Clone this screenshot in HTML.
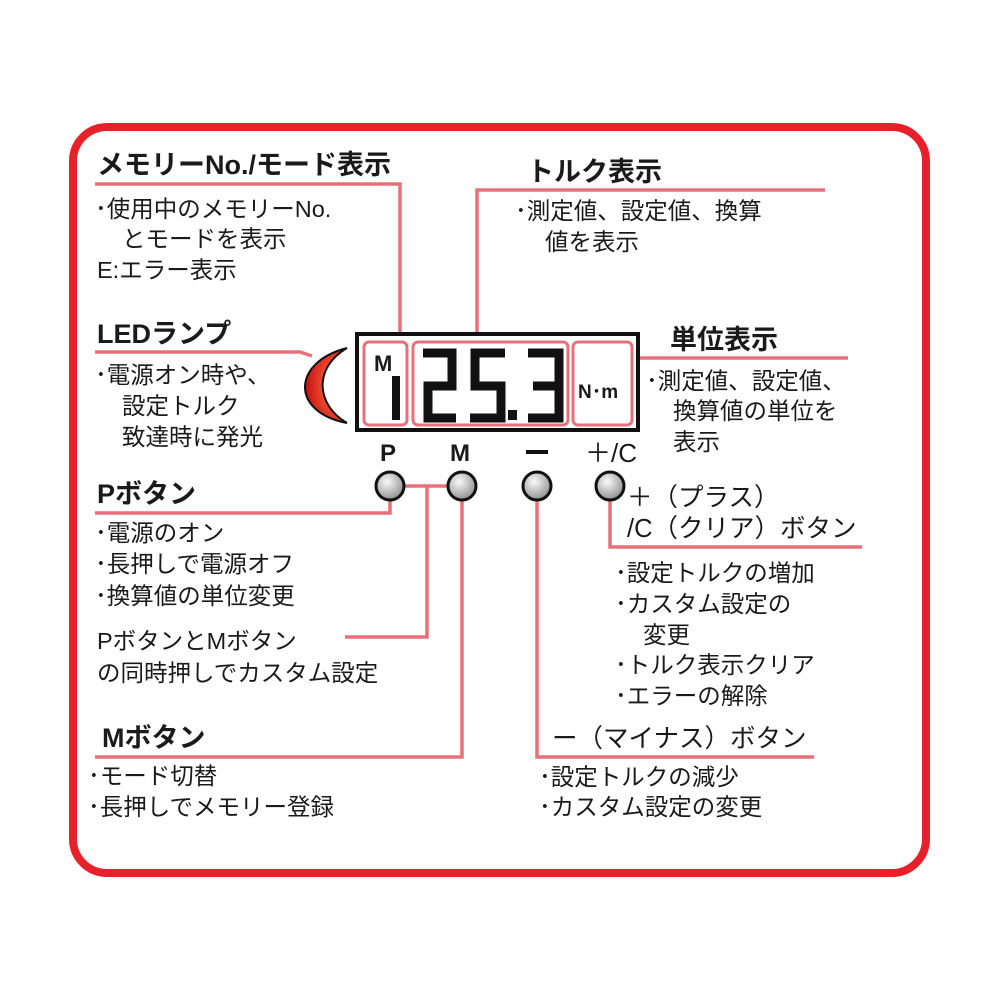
<!DOCTYPE html>
<html><head><meta charset="utf-8"><style>
html,body{margin:0;padding:0;background:#fff}
svg text{font-family:"Liberation Sans","Noto Sans CJK JP",sans-serif;fill:#1a1a1a}
.t{font-size:27px;font-weight:bold}
.b{font-size:23.5px}
</style></head><body>
<svg width="1000" height="1000" viewBox="0 0 1000 1000" xmlns="http://www.w3.org/2000/svg">
<defs>
<radialGradient id="g" cx="0.4" cy="0.35" r="0.7"><stop offset="0" stop-color="#fafafa"/><stop offset="1" stop-color="#8a8a8a"/></radialGradient>
<radialGradient id="r" cx="0.7" cy="0.5" r="0.7"><stop offset="0" stop-color="#f7a060"/><stop offset="0.5" stop-color="#e8402a"/><stop offset="1" stop-color="#c01010"/></radialGradient>
</defs>
<rect x="73" y="127" width="853" height="746" rx="34" fill="none" stroke="#e8202a" stroke-width="8"/>
<g fill="none" stroke="#e77179" stroke-width="3.5">
<polyline points="95,184 400,184 400,343"/>
<polyline points="477,343 477,190 825,190"/>
<polyline points="95,352 300,352 312,356"/>
<polyline points="632,358 848,358"/>
<polyline points="95,513 390,513 390,500"/>
<polyline points="404,486 448,486"/>
<polyline points="427,486 427,637 345,637"/>
<polyline points="462,500 462,757 95,757"/>
<polyline points="537,500 537,757 814,757"/>
<polyline points="610,500 610,547 862,547"/>
</g>
<path d="M347,348 C292,362 290,412 347,423 C316,405 313,368 347,348 Z" fill="url(#r)" stroke="#111" stroke-width="2"/>
<rect x="357" y="334" width="281" height="96" fill="#fff" stroke="#111" stroke-width="4"/>
<g fill="none" stroke="#e77179" stroke-width="3">
<rect x="364" y="342" width="43" height="83" rx="5"/>
<rect x="413" y="342" width="155" height="83" rx="5"/>
<rect x="573" y="342" width="59" height="83" rx="5"/>
</g>
<text x="374" y="371" style="font-size:22px;font-weight:bold">M</text>
<rect x="392" y="376" width="8" height="44" fill="#111"/>
<g fill="none" stroke="#111" stroke-width="9" stroke-linejoin="miter">
<polyline points="423,353 452,353 452,386 428,386 428,418 456,418"/>
<polyline points="505,353 475,353 475,386 501,386 501,418 470,418"/>
<polyline points="528,353 559,353 559,418 528,418"/>
<line x1="533" y1="386" x2="559" y2="386"/>
</g>
<rect x="508" y="410" width="9" height="10" fill="#111"/>
<text x="578" y="398" style="font-size:19px;font-weight:bold">N･m</text>
<text x="380" y="461" style="font-size:24px;font-weight:bold">P</text>
<text x="450" y="461" style="font-size:24px;font-weight:bold">M</text>
<rect x="526" y="450" width="22" height="4" fill="#111"/>
<text x="585" y="462" style="font-size:26px">＋/C</text>
<g stroke="#111" stroke-width="3" fill="url(#g)">
<circle cx="390" cy="486" r="14"/><circle cx="462" cy="486" r="14"/>
<circle cx="537" cy="486" r="14"/><circle cx="610" cy="486" r="14"/>
</g>
<text class="t" x="97" y="174">メモリーNo./モード表示</text>
<text class="b" x="95" y="217">･使用中のメモリーNo.</text>
<text class="b" x="122" y="247">とモードを表示</text>
<text class="b" x="97" y="278">E:エラー表示</text>
<text class="t" x="527" y="181">トルク表示</text>
<text class="b" x="515" y="219">･測定値、設定値、換算</text>
<text class="b" x="545" y="250">値を表示</text>
<text class="t" x="97" y="343">LEDランプ</text>
<text class="b" x="95" y="383">･電源オン時や、</text>
<text class="b" x="122" y="414">設定トルク</text>
<text class="b" x="122" y="445">致達時に発光</text>
<text class="t" x="670" y="349">単位表示</text>
<text class="b" x="646" y="389">･測定値、設定値、</text>
<text class="b" x="673" y="419">換算値の単位を</text>
<text class="b" x="673" y="450">表示</text>
<text class="t" x="97" y="503">Pボタン</text>
<text class="b" x="95" y="541">･電源のオン</text>
<text class="b" x="95" y="572">･長押しで電源オフ</text>
<text class="b" x="95" y="604">･換算値の単位変更</text>
<text class="b" x="97" y="649">PボタンとMボタン</text>
<text class="b" x="97" y="681">の同時押しでカスタム設定</text>
<text class="t" x="102" y="747">Mボタン</text>
<text class="b" x="88" y="784">･モード切替</text>
<text class="b" x="88" y="815">･長押しでメモリー登録</text>
<text x="627" y="506" style="font-size:25.5px">＋（プラス）</text>
<text x="627" y="537" style="font-size:25.5px">/C（クリア）ボタン</text>
<text class="b" x="615" y="581">･設定トルクの増加</text>
<text class="b" x="615" y="612">･カスタム設定の</text>
<text class="b" x="643" y="643">変更</text>
<text class="b" x="615" y="673">･トルク表示クリア</text>
<text class="b" x="615" y="704">･エラーの解除</text>
<text x="552" y="747" style="font-size:25.5px">ー（マイナス）ボタン</text>
<text class="b" x="539" y="785">･設定トルクの減少</text>
<text class="b" x="539" y="815">･カスタム設定の変更</text>
</svg>
</body></html>
